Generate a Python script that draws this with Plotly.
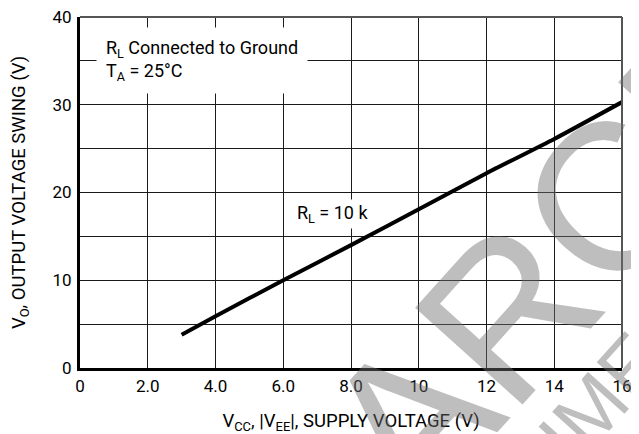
import plotly.graph_objects as go

# Data
supply_v = [3, 4, 6, 8, 10, 12, 14, 16]
swing_v = [3.8, 5.9, 10.0, 14.0, 18.1, 22.2, 26.1, 30.3]

x_tickvals = [0, 2, 4, 6, 8, 10, 12, 14, 16]
x_ticktext = ["0", "2.0", "4.0", "6.0", "8.0", "10", "12", "14", "16"]
y_tickvals = [0, 10, 20, 30, 40]
y_ticktext = ["0", "10", "20", "30", "40"]

FONT = "'Liberation Sans Narrow', Roboto, sans-serif"
WM_FONT = "'Liberation Sans', Arial, sans-serif"
WM_COLOR = "rgba(110,110,110,0.45)"

fig = go.Figure()
fig.add_trace(go.Scatter(
    x=supply_v, y=swing_v, mode="lines",
    line=dict(color="black", width=4, shape="spline", smoothing=0.6),
    hoverinfo="skip", showlegend=False,
))

grid_color = "#1a1a1a"
fig.update_xaxes(
    range=[0, 16], tickvals=x_tickvals, ticktext=x_ticktext,
    showgrid=True, gridcolor=grid_color, gridwidth=1.3,
    showline=True, linecolor="black", linewidth=3,
    zeroline=False, ticks="", ticklabelstandoff=1, automargin=False,
    ticklabeloverflow="allow",
    tickfont=dict(family=FONT, size=17, color="black"),
    title=dict(text="V<sub>CC</sub>, |V<sub>EE</sub>|, SUPPLY VOLTAGE (V)",
               font=dict(family=FONT, size=18.5, color="black"), standoff=24),
)
fig.update_yaxes(
    range=[0, 40], tickvals=y_tickvals, ticktext=y_ticktext,
    showgrid=True, gridcolor=grid_color, gridwidth=1.3,
    minor=dict(dtick=5, showgrid=True, gridcolor=grid_color, gridwidth=1.3),
    showline=True, linecolor="black", linewidth=3,
    zeroline=False, ticks="", ticklabelstandoff=2, automargin=False,
    ticklabeloverflow="allow",
    tickfont=dict(family=FONT, size=17, color="black"),
    title=dict(text="V<sub>O</sub>, OUTPUT VOLTAGE SWING (V)",
               font=dict(family=FONT, size=18.5, color="black"), standoff=26),
)

# top and right frame lines
fig.add_shape(type="line", xref="paper", yref="paper", x0=1, x1=1, y0=0, y1=1,
              line=dict(color="#555555", width=2))
fig.add_shape(type="line", xref="paper", yref="paper", x0=0, x1=1, y0=1, y1=1,
              line=dict(color="#555555", width=2))

# watermark (semi-transparent so grid shows through)
fig.add_annotation(
    text="ARCHIVE", xref="paper", yref="paper", x=1.10, y=0.69,
    xanchor="center", yanchor="middle",
    showarrow=False, textangle=-48,
    font=dict(family=WM_FONT, size=210, color=WM_COLOR),
)
fig.add_annotation(
    text="DOCUMENT", xref="paper", yref="paper", x=0.895, y=-0.2,
    xanchor="center", yanchor="middle",
    showarrow=False, textangle=-48,
    font=dict(family=WM_FONT, size=80, color=WM_COLOR),
)

fig.add_annotation(
    text="R<sub>L</sub> Connected to Ground<br>T<sub>A</sub> = 25°C",
    x=0.47, y=35.05, xanchor="left", yanchor="middle", align="left",
    showarrow=False, bgcolor="white", borderpad=9,
    font=dict(family=FONT, size=18, color="black"),
)
fig.add_annotation(
    text="R<sub>L</sub> = 10 k",
    x=7.45, y=17.5, xanchor="center", yanchor="middle",
    showarrow=False, bgcolor="white", borderpad=2,
    font=dict(family=FONT, size=18, color="black"),
)

# the page adds an 8 px body margin, so the figure is drawn 8 px smaller
fig.update_layout(
    width=631, height=426,
    margin=dict(l=72, r=17, t=9, b=66, autoexpand=False),
    paper_bgcolor="white", plot_bgcolor="white",
    showlegend=False,
)

fig.write_html("out.html")
